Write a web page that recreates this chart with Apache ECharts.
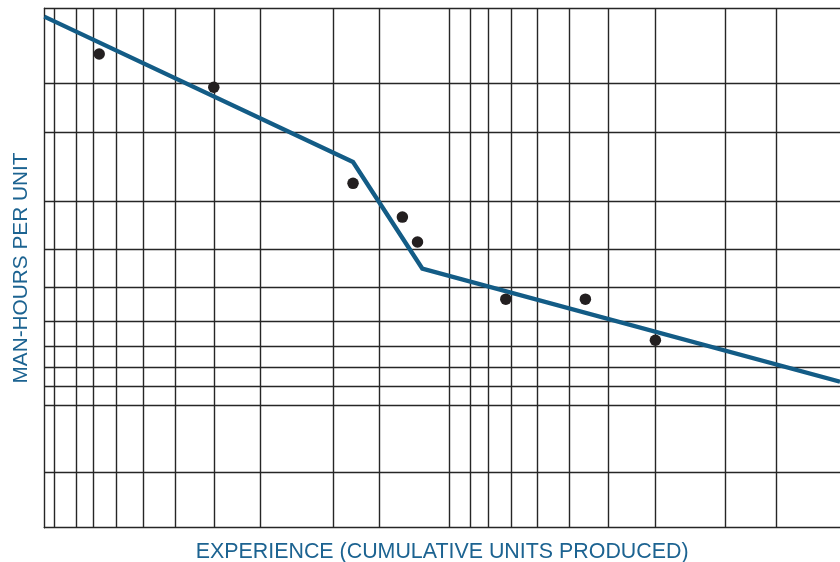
<!DOCTYPE html>
<html>
<head>
<meta charset="utf-8">
<script src="https://cdn.jsdelivr.net/npm/echarts@6/dist/echarts.min.js"></script>
<style>
  html, body { margin: 0; padding: 0; background: #ffffff; }
  #chart { width: 840px; height: 562px; }
</style>
</head>
<body>
<div id="chart"></div>
<script>
// Grid paper lines (position on the stylised experience / man-hours scales, 0–100)
const xGridLines = [1.3, 4.0, 6.2, 9.1, 12.4, 16.5, 21.3, 27.2, 36.3, 42.1, 50.9, 53.5, 55.8, 58.7, 61.9, 66.0, 70.9, 76.8, 85.6, 92.0];
const yGridLines = [10.7, 23.5, 27.3, 30.9, 35.0, 39.8, 46.3, 53.7, 62.8, 76.2, 85.6, 100];

// Fitted learning curve (break points)
const curveExperience = [0, 38.8, 47.5, 100];
const curveHours = [98.4, 70.4, 49.9, 28.1];

// Observed data points
const pointExperience = [6.9, 21.3, 38.8, 45.0, 46.9, 58.0, 68.0, 76.8];
const pointHours = [91.2, 84.8, 66.3, 59.8, 55.0, 44.0, 44.0, 36.1];

const xTitle = 'EXPERIENCE (CUMULATIVE UNITS PRODUCED)';
const yTitle = 'MAN-HOURS PER UNIT';

const gridColor = '#262626';
const blue = '#135c86';
const textBlue = '#1c6391';
const font = '"Liberation Sans", Arial, Helvetica, sans-serif';

const chart = echarts.init(document.getElementById('chart'), null, { renderer: 'canvas' });

chart.setOption({
  animation: false,
  backgroundColor: '#ffffff',
  grid: { left: 44.3, right: 0, top: 8.3, bottom: 34.3, containLabel: false, outerBoundsMode: 'none' },
  xAxis: {
    type: 'value',
    min: 0,
    max: 100,
    name: xTitle,
    nameLocation: 'middle',
    nameGap: 13.5,
    nameTextStyle: { color: textBlue, fontSize: 21.4, fontFamily: font },
    axisLine: { show: true, lineStyle: { color: gridColor, width: 1.4 } },
    axisTick: { show: false, customValues: xGridLines },
    axisLabel: { show: false },
    splitLine: { show: true, lineStyle: { color: gridColor, width: 1.4 } }
  },
  yAxis: {
    type: 'value',
    min: 0,
    max: 100,
    name: yTitle,
    nameLocation: 'middle',
    nameRotate: 90,
    nameGap: 13,
    nameTextStyle: { color: textBlue, fontSize: 20.8, fontFamily: font },
    axisLine: { show: true, lineStyle: { color: gridColor, width: 1.4 } },
    axisTick: { show: false, customValues: yGridLines },
    axisLabel: { show: false },
    splitLine: { show: true, lineStyle: { color: gridColor, width: 1.4 } }
  },
  series: [
    {
      name: 'Learning curve',
      type: 'line',
      data: curveExperience.map((x, i) => [x, curveHours[i]]),
      symbol: 'none',
      lineStyle: { color: blue, width: 4.3, join: 'miter' },
      z: 3,
      silent: true
    },
    {
      name: 'Observed',
      type: 'scatter',
      data: pointExperience.map((x, i) => [x, pointHours[i]]),
      symbol: 'circle',
      symbolSize: 11.5,
      itemStyle: { color: '#231f20', opacity: 1 },
      z: 4,
      silent: true
    }
  ]
});
</script>
</body>
</html>
